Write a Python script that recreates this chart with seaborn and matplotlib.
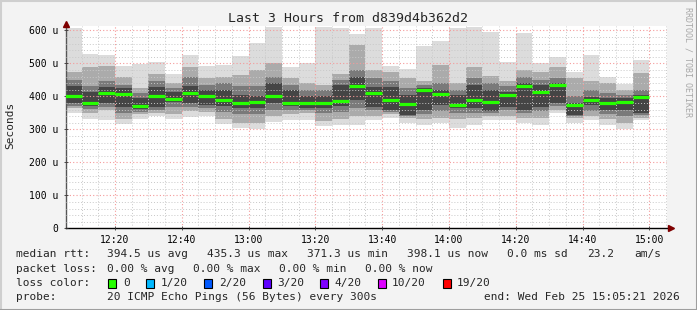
import matplotlib
matplotlib.use("Agg")
import matplotlib.pyplot as plt
import seaborn as sns
import pandas as pd
from matplotlib.patches import Rectangle
from matplotlib.lines import Line2D
from matplotlib.ticker import MultipleLocator, FixedLocator, FixedFormatter

# ---------------- data (values in microseconds) ----------------
times = ["12:05", "12:10", "12:15", "12:20", "12:25", "12:30", "12:35", "12:40", "12:45",
         "12:50", "12:55", "13:00", "13:05", "13:10", "13:15", "13:20", "13:25", "13:30",
         "13:35", "13:40", "13:45", "13:50", "13:55", "14:00", "14:05", "14:10", "14:15",
         "14:20", "14:25", "14:30", "14:35", "14:40", "14:45", "14:50", "14:55"]
rtt_min = [350, 332, 329, 315, 331, 340, 331, 338, 340, 316, 303, 300, 322, 328, 328, 310, 313, 314,
           328, 334, 320, 313, 320, 304, 314, 328, 328, 318, 314, 348, 320, 328, 313, 300, 328]
rtt_p10 = [365, 350, 357, 330, 345, 350, 345, 355, 352, 330, 320, 318, 340, 345, 350, 325, 330, 340,
           340, 345, 335, 330, 335, 330, 335, 340, 340, 335, 335, 360, 335, 340, 330, 320, 335]
rtt_p25 = [370, 362, 368, 350, 352, 360, 368, 368, 365, 352, 345, 345, 360, 358, 358, 348, 352, 365,
           358, 352, 340, 345, 355, 350, 350, 348, 360, 350, 355, 370, 340, 355, 345, 340, 342]
core_lo = [380, 372, 379, 369, 361, 369, 384, 380, 375, 370, 364, 365, 379, 370, 365, 365, 370, 389,
           369, 359, 344, 359, 374, 364, 364, 354, 369, 359, 369, 379, 344, 374, 359, 359, 349]
median = [400, 381, 411, 408, 372, 401, 391, 409, 401, 389, 381, 382, 401, 381, 381, 381, 385, 430,
          409, 390, 376, 420, 408, 374, 390, 383, 404, 430, 413, 435.3, 373, 390, 381, 382, 398.1]
core_hi = [430, 414, 429, 424, 394, 429, 414, 430, 419, 420, 404, 400, 439, 419, 400, 400, 434, 459,
           429, 429, 404, 424, 419, 404, 434, 419, 414, 439, 434, 439, 379, 399, 394, 394, 404]
rtt_p75 = [450, 430, 445, 435, 410, 445, 425, 460, 435, 440, 430, 430, 460, 435, 420, 418, 450, 480,
           455, 445, 425, 435, 440, 420, 455, 440, 430, 460, 450, 455, 400, 420, 410, 405, 420]
rtt_p90 = [475, 490, 491, 459, 424, 469, 439, 489, 454, 460, 464, 480, 500, 454, 440, 434, 469, 554,
           479, 475, 455, 445, 495, 439, 489, 461, 445, 479, 475, 490, 455, 445, 440, 420, 470]
rtt_max = [608, 529, 525, 491, 499, 505, 469, 525, 491, 494, 521, 562, 610, 489, 501, 610, 608, 590,
           608, 491, 484, 551, 569, 608, 610, 594, 504, 592, 502, 519, 474, 526, 459, 436, 509]

y_ticks = [0, 100, 200, 300, 400, 500, 600]
y_labels = ["0", "100 u", "200 u", "300 u", "400 u", "500 u", "600 u"]
x_tick_labels = ["12:20", "12:40", "13:00", "13:20", "13:40", "14:00", "14:20", "14:40", "15:00"]

loss_labels = ["0", "1/20", "2/20", "3/20", "4/20", "10/20", "19/20"]
loss_colors = ["#26ff00", "#00b8ff", "#0059ff", "#5e00ff", "#7e00ff", "#dd00ff", "#ff0000"]


def to_min(t):
    h, m = t.split(":")
    return (int(h) - 12) * 60 + int(m)


df = pd.DataFrame({"start": [to_min(t) for t in times], "min": rtt_min, "p10": rtt_p10,
                   "p25": rtt_p25, "clo": core_lo, "med": median, "chi": core_hi,
                   "p75": rtt_p75, "p90": rtt_p90, "max": rtt_max})

# ---------------- figure ----------------
sns.set_theme(style="white")
plt.rcParams["font.family"] = ["DejaVu Sans Mono", "DejaVu Sans"]

W, H = 697, 310
fig = plt.figure(figsize=(W / 100, H / 100), dpi=100, facecolor="#f3f3f3")

px_per_min = 3.34
left_px, bottom_px = 66, 228.3
ytop = 612
ax_h_px = ytop * 0.33
ax = fig.add_axes([left_px / W, (H - bottom_px) / H, 180 * px_per_min / W, ax_h_px / H])
ax.set_facecolor("white")

x0 = 5.35
ax.set_xlim(x0, x0 + 180)
ax.set_ylim(0, ytop)

layers = [("min", "max", "#dcdcdc"), ("p10", "p90", "#ababab"),
          ("p25", "p75", "#7a7a7a"), ("clo", "chi", "#454545")]
for lo, hi, col in layers:
    ax.bar(df["start"], df[hi] - df[lo], bottom=df[lo], width=5, align="edge",
           color=col, linewidth=0, zorder=1)

ax.hlines(df["med"], df["start"], df["start"] + 5, color=loss_colors[0], lw=2.3, zorder=4)

# grid
ax.set_axisbelow(False)
ax.yaxis.set_major_locator(FixedLocator(y_ticks))
ax.yaxis.set_major_formatter(FixedFormatter(y_labels))
ax.yaxis.set_minor_locator(MultipleLocator(20))
xt = [to_min(t) for t in x_tick_labels]
ax.xaxis.set_major_locator(FixedLocator(xt))
ax.xaxis.set_major_formatter(FixedFormatter(x_tick_labels))
ax.xaxis.set_minor_locator(MultipleLocator(5))
ax.grid(which="minor", color="#c8c8c8", linestyle=(0, (1, 2)), linewidth=0.7)
ax.grid(which="major", color="#f59a9a", linestyle=(0, (1, 2)), linewidth=0.8)
ax.tick_params(axis="both", which="major", labelsize=7, colors="#333333", labelcolor="black",
               length=3, width=0.6, direction="inout")
ax.tick_params(axis="both", which="minor", length=2, width=0.5, colors="#666666", direction="inout")
ax.tick_params(axis="y", pad=4)
ax.tick_params(axis="x", pad=3)
ax.tick_params(left=True, bottom=True)

for s in ["top", "right"]:
    ax.spines[s].set_visible(False)
ax.spines["bottom"].set_color("black")
ax.spines["bottom"].set_linewidth(1.0)
ax.spines["left"].set_color("#555555")
ax.spines["left"].set_linewidth(1.0)

# arrows
ax.plot([x0], [ytop + 6], marker="^", color="#7f0000", markersize=4.5, clip_on=False, zorder=6)
ax.plot([x0 + 181.2], [0], marker=">", color="#7f0000", markersize=4.5, clip_on=False, zorder=6)


def ft(x, y, s, **kw):
    kw.setdefault("fontsize", 8)
    kw.setdefault("va", "center")
    fig.text(x / W, 1 - y / H, s, **kw)


ft(348, 19, "Last 3 Hours from d839d4b362d2", fontsize=9.5, ha="center")
ft(10, 125, "Seconds", rotation=90, ha="center")
ft(688, 62, "RRDTOOL / TOBI OETIKER", rotation=270, ha="center", fontsize=6, color="#a8a8a8")

r1 = 254
ft(16, r1, "median rtt:")
for x, s in [(107, "394.5 us avg"), (207, "435.3 us max"), (307, "371.3 us min"),
             (407, "398.1 us now"), (507, "0.0 ms sd"), (587, "23.2"), (634, "am/s")]:
    ft(x, r1, s)
r2 = 269
ft(16, r2, "packet loss:")
for x, s in [(107, "0.00 % avg"), (193, "0.00 % max"), (279, "0.00 % min"), (365, "0.00 % now")]:
    ft(x, r2, s)
r3 = 283
ft(16, r3, "loss color:")
sq_x = [108.4, 145.8, 204.4, 263, 320, 378.2, 442.7]
lab_x = [123.6, 160.9, 219.1, 276.9, 334.2, 392, 456.9]
for sx, lx, lab, col in zip(sq_x, lab_x, loss_labels, loss_colors):
    fig.add_artist(Rectangle((sx / W, 1 - (r3 + 4.5) / H), 8 / W, 9 / H, transform=fig.transFigure,
                             facecolor=col, edgecolor="black", linewidth=0.8))
    ft(lx, r3, lab)
r4 = 297
ft(16, r4, "probe:")
ft(107, r4, "20 ICMP Echo Pings (56 Bytes) every 300s")
ft(680, r4, "end: Wed Feb 25 15:05:21 2026", ha="right")

# bevel border
lw = 1.5
fig.add_artist(Line2D([0, 1], [1 - 0.5 / H, 1 - 0.5 / H], transform=fig.transFigure, color="#cfcfcf", lw=lw))
fig.add_artist(Line2D([0.5 / W, 0.5 / W], [0, 1], transform=fig.transFigure, color="#cfcfcf", lw=lw))
fig.add_artist(Line2D([0, 1], [0.5 / H, 0.5 / H], transform=fig.transFigure, color="#9e9e9e", lw=lw))
fig.add_artist(Line2D([1 - 0.5 / W, 1 - 0.5 / W], [0, 1], transform=fig.transFigure, color="#9e9e9e", lw=lw))

fig.savefig("out.png", dpi=100, facecolor=fig.get_facecolor())
